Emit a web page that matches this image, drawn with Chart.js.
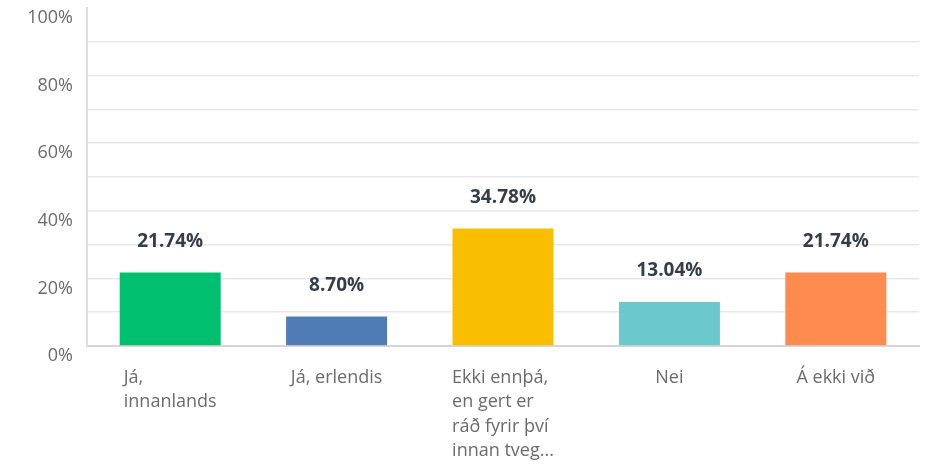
<!DOCTYPE html>
<html>
<head>
<meta charset="utf-8">
<script src="https://cdn.jsdelivr.net/npm/chart.js@4/dist/chart.umd.min.js"></script>
<style>
    body { margin: 0; background: #fff; }
</style>
</head>
<body>
<canvas id="chart" width="932" height="464"></canvas>
<script>
const categories = [
    ['Já,', 'innanlands'],
    ['Já, erlendis'],
    ['Ekki ennþá,', 'en gert er', 'ráð fyrir því', 'innan tveg...'],
    ['Nei'],
    ['Á ekki við']
];
const values = [21.74, 8.70, 34.78, 13.04, 21.74];
const colors = ['#00bf6f', '#507cb6', '#f9be00', '#6bc8cd', '#ff8b4f'];
const tickLabels = ['0%', '20%', '40%', '60%', '80%', '100%'];

const FONT = "'Open Sans', sans-serif";

// value labels above the bars
const barLabels = {
    id: 'barLabels',
    afterDatasetsDraw(chart) {
        const ctx = chart.ctx;
        const meta = chart.getDatasetMeta(0);
        ctx.save();
        ctx.font = 'bold 19px ' + FONT;
        ctx.fillStyle = '#333e48';
        ctx.textAlign = 'center';
        ctx.textBaseline = 'middle';
        meta.data.forEach((bar, i) => {
            ctx.fillText(values[i].toFixed(2) + '%', bar.x, bar.y - 31);
        });
        ctx.restore();
    }
};

// category labels: block centred under bar, lines left aligned
const catLabels = {
    id: 'catLabels',
    afterDraw(chart) {
        const ctx = chart.ctx;
        const x = chart.scales.x;
        ctx.save();
        ctx.font = '18px ' + FONT;
        ctx.fillStyle = '#6b6b6b';
        ctx.textAlign = 'left';
        ctx.textBaseline = 'middle';
        categories.forEach((lines, i) => {
            const w = Math.max(...lines.map(l => ctx.measureText(l).width));
            const left = x.getPixelForValue(i) - w / 2;
            lines.forEach((l, j) => {
                ctx.fillText(l, left, x.top + 32 + j * 24.3);
            });
        });
        ctx.restore();
    }
};

new Chart(document.getElementById('chart'), {
    type: 'bar',
    data: {
        labels: categories.map(c => c.join(' ')),
        datasets: [{
            data: values,
            backgroundColor: colors,
            borderWidth: 0,
            barPercentage: 0.607,
            categoryPercentage: 1
        }]
    },
    options: {
        responsive: false,
        animation: false,
        layout: { padding: { top: 8, right: 13, left: 0, bottom: 0 } },
        plugins: {
            legend: { display: false },
            tooltip: { enabled: false }
        },
        scales: {
            x: {
                ticks: { display: false },
                grid: { display: false, drawTicks: false },
                border: { color: '#d6d6d6', width: 2 },
                afterFit(scale) {
                    scale.height = 118;
                    scale.paddingLeft = 0;
                    scale.paddingRight = 0;
                }
            },
            y: {
                min: 0,
                max: 100,
                ticks: {
                    stepSize: 10,
                    labelOffset: 10,
                    padding: 14,
                    color: '#6b6b6b',
                    font: { family: FONT, size: 18 },
                    callback: v => v % 20 === 0 ? tickLabels[v / 20] : ''
                },
                grid: {
                    drawTicks: false,
                    lineWidth: 1.5,
                    color: c => (c.tick && (c.tick.value === 100 || c.tick.value === 0)) ? 'rgba(0,0,0,0)' : '#e8e8e8'
                },
                border: { color: '#dedede', width: 2 },
                afterFit(scale) {
                    scale.width = 87;
                    scale.paddingTop = 0;
                    scale.paddingBottom = 0;
                }
            }
        }
    },
    plugins: [barLabels, catLabels]
});
</script>
</body>
</html>
